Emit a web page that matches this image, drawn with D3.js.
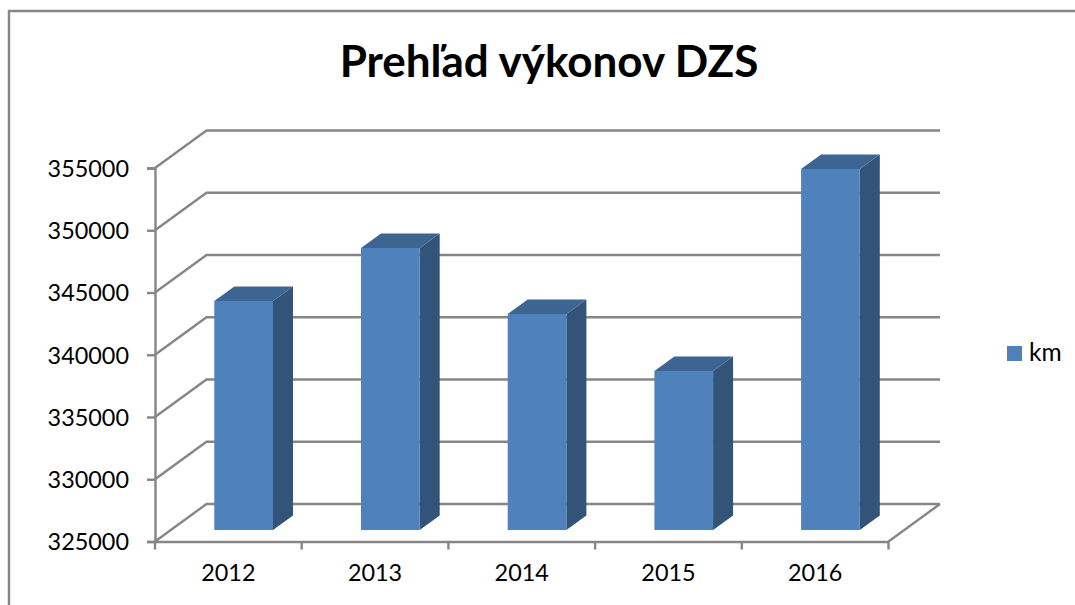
<!DOCTYPE html>
<html>
<head>
<meta charset="utf-8">
<script src="https://cdnjs.cloudflare.com/ajax/libs/d3/7.8.5/d3.min.js"></script>
<style>
	html, body { margin: 0; padding: 0; background: #fff; overflow: hidden; }
	text { font-family: Lato, "Open Sans", sans-serif; fill: #000; }
</style>
</head>
<body>
<div class="chart"></div>
<script>
const years = ["2012", "2013", "2014", "2015", "2016"]
const km = [343400, 347650, 342350, 337770, 354000]
const yTicks = [325000, 330000, 335000, 340000, 345000, 350000, 355000]
const seriesName = "km"
const chartTitle = "Prehľad výkonov DZS"

const svgWidth = 1075
const svgHeight = 605
const gray = "#868686"
const lineWidth = 2.4

// front plane of the fake 3d box
const plot = { left: 155, right: 888.5, top: 168, bottom: 541.5 }
// how far the back wall is pushed, and where bars stand inside that depth
const depth = { dx: 51.5, dy: -37.5 }
const barShift = { dx: 15.3, dy: -11.5 }
const barDepth = { dx: 20, dy: -14.5 }

let svg = d3.select(".chart")
	.append("svg")
	.attr("width", svgWidth)
	.attr("height", svgHeight)
	.style("display", "block")

// outer chart border, only left and top are inside the crop
svg.append("path")
	.attr("d", d3.line()([[9, svgHeight], [9, 11], [svgWidth, 11]]))
	.attr("fill", "none")
	.attr("stroke", gray)
	.attr("stroke-width", lineWidth)

svg.append("text")
	.attr("x", 549)
	.attr("y", 77)
	.attr("text-anchor", "middle")
	.attr("font-size", 44)
	.attr("font-weight", "bold")
	.text(chartTitle)

let xScale = d3.scaleBand()
	.domain(years)
	.range([plot.left, plot.right])

let yScale = d3.scaleLinear()
	.domain([325000, 355000])
	.range([plot.bottom, plot.top])

// back wall gridlines and the diagonals on the side wall
let grid = svg.append("g")
	.attr("fill", "none")
	.attr("stroke", gray)
	.attr("stroke-width", lineWidth)

grid.selectAll("path")
	.data(yTicks)
	.enter()
	.append("path")
	.attr("d", d => d3.line()([
		[plot.left, yScale(d)],
		[plot.left + depth.dx, yScale(d) + depth.dy],
		[plot.right + depth.dx, yScale(d) + depth.dy]
	]))

// right edge of the floor
grid.append("path")
	.attr("d", d3.line()([
		[plot.right, plot.bottom],
		[plot.right + depth.dx, plot.bottom + depth.dy]
	]))

let leftAxis = d3.axisLeft(yScale)
	.tickValues(yTicks)
	.tickFormat(d3.format("d"))
	.tickSize(8)
	.tickPadding(18)

let yAxis = svg.append("g")
	.attr("transform", `translate(${plot.left}, 0)`)
	.call(leftAxis)

yAxis.selectAll("text").attr("dy", "0.36em")

// ticks sit between the categories, so the band edges get drawn by hand below
let bottomAxis = d3.axisBottom(xScale)
	.tickSize(0)
	.tickPadding(23)

let xAxis = svg.append("g")
	.attr("transform", `translate(0, ${plot.bottom})`)
	.call(bottomAxis)

xAxis.selectAll(".edge")
	.data(d3.range(years.length + 1))
	.enter()
	.append("line")
	.attr("x1", i => plot.left + i * xScale.step())
	.attr("x2", i => plot.left + i * xScale.step())
	.attr("y1", 0)
	.attr("y2", 8)
	.attr("stroke", gray)
	.attr("stroke-width", lineWidth)

svg.selectAll(".domain, .tick line")
	.attr("stroke", gray)
	.attr("stroke-width", lineWidth)

svg.selectAll(".tick text")
	.attr("font-size", 23.4)
	.attr("fill", "#000")
	.style("font-family", "Lato, 'Open Sans', sans-serif")

// bars
const barWidth = xScale.bandwidth() * 0.4
const barLeft = d => xScale(d) + (xScale.bandwidth() - barWidth) / 2 + barShift.dx
const barBase = plot.bottom + barShift.dy
const barTop = v => yScale(v) + barShift.dy

let barsGroup = svg.selectAll(".bar")
	.data(years.map((y, i) => ({ year: y, value: km[i] })))
	.enter()
	.append("g")
	.attr("class", "bar")

// side face
barsGroup.append("path")
	.attr("fill", "#325479")
	.attr("d", d => {
		let x = barLeft(d.year) + barWidth
		return d3.line()([
			[x, barTop(d.value)],
			[x + barDepth.dx, barTop(d.value) + barDepth.dy],
			[x + barDepth.dx, barBase + barDepth.dy],
			[x, barBase]
		]) + "Z"
	})

// top face
barsGroup.append("path")
	.attr("fill", "#3d6591")
	.attr("d", d => {
		let x = barLeft(d.year)
		let y = barTop(d.value)
		return d3.line()([
			[x, y],
			[x + barDepth.dx, y + barDepth.dy],
			[x + barWidth + barDepth.dx, y + barDepth.dy],
			[x + barWidth, y]
		]) + "Z"
	})

// front face
barsGroup.append("rect")
	.attr("x", d => barLeft(d.year))
	.attr("y", d => barTop(d.value))
	.attr("width", barWidth)
	.attr("height", d => barBase - barTop(d.value))
	.attr("fill", "#4f81bd")

// legend
svg.append("rect")
	.attr("x", 1007)
	.attr("y", 346)
	.attr("width", 15)
	.attr("height", 15)
	.attr("fill", "#4f81bd")

svg.append("text")
	.attr("x", 1029)
	.attr("y", 361)
	.attr("font-size", 24.5)
	.text(seriesName)
</script>
</body>
</html>
